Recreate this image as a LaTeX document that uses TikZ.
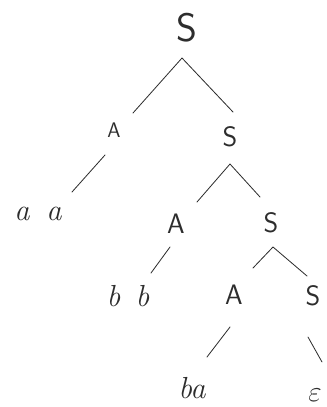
\documentclass[tikz,border=0pt]{standalone}
\usepackage{tikz}
\usetikzlibrary{positioning}
\definecolor{pencil}{RGB}{45, 45, 45}
\tikzset{
  sym/.style={inner sep=0pt, text=pencil,
    font=\sffamily\fontsize{24}{24}\selectfont},
  rootsym/.style={sym, font=\sffamily\fontsize{34}{34}\selectfont},
  smallsym/.style={sym, font=\sffamily\fontsize{18}{18}\selectfont},
  term/.style={inner sep=0pt, text=pencil,
    font=\fontsize{26}{26}\selectfont\itshape},
  branch/.style={draw=pencil, line width=0.7pt, line cap=round, line join=round}
}

\begin{document}
\begin{tikzpicture}[x=0.03cm, y=-0.03cm]
  \useasboundingbox (0,0) rectangle (327,407);

  %% Nonterminals
  \node[rootsym] (root) at (187,28) {S};
  \node[smallsym] (A1) at (114,130) {A};
  \node[sym] (S1) at (230,137) {S};
  \node[sym] (A2) at (176,224) {A};
  \node[sym] (S2) at (271,223) {S};
  \node[sym] (A3) at (234,295) {A};
  \node[sym] (S3) at (313,296) {S};

  %% Terminals
  \node[term] (aa) at (38,214) {a\hspace{0.55em}a};
  \node[term] (bb) at (128,296) {b\hspace{0.5em}b};
  \node[term] (ba) at (192,388) {ba};
  \node[term] (eps) at (315,395) {$\varepsilon$};

  %% Branch ends
  \coordinate (rootfork) at (182,58);
  \coordinate (a1in) at (133,113);
  \coordinate (s1in) at (233,112);
  \coordinate (a1out) at (105,155);
  \coordinate (aain) at (72,192);
  \coordinate (s1fork) at (230,164);
  \coordinate (a2in) at (197,202);
  \coordinate (s2in) at (260,197);
  \coordinate (a2out) at (170,247);
  \coordinate (bbin) at (151,273);
  \coordinate (s2fork) at (273,247);
  \coordinate (a3in) at (253,268);
  \coordinate (s3in) at (307,276);
  \coordinate (a3out) at (230,327);
  \coordinate (bain) at (207,357);
  \coordinate (s3out) at (308,337);
  \coordinate (epsin) at (322,362);

  %% Branches
  \draw[branch] (a1in) -- (rootfork) -- (s1in);
  \draw[branch] (a1out) -- (aain);
  \draw[branch] (a2in) -- (s1fork) -- (s2in);
  \draw[branch] (a2out) -- (bbin);
  \draw[branch] (a3in) -- (s2fork) -- (s3in);
  \draw[branch] (a3out) -- (bain);
  \draw[branch] (s3out) -- (epsin);

\end{tikzpicture}
\end{document}
